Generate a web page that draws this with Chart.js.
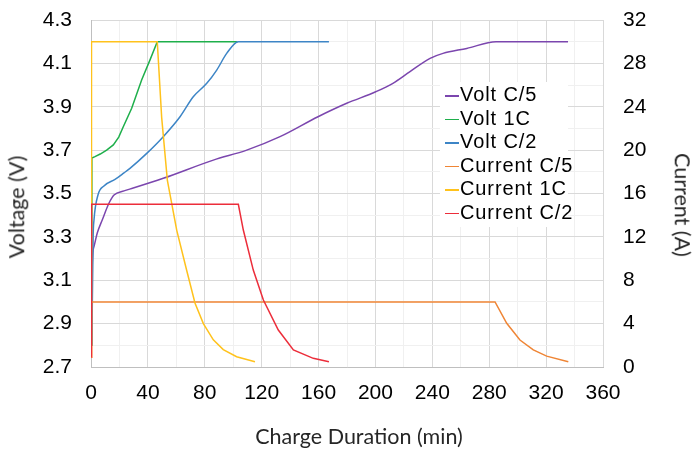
<!DOCTYPE html>
<html>
<head>
<meta charset="utf-8">
<script src="https://cdn.jsdelivr.net/npm/chart.js@4.4.1/dist/chart.umd.min.js"></script>
<style>
  html, body { margin: 0; padding: 0; background: #fff; }
  #wrap { position: relative; width: 693px; height: 449px; }
  #legend { position: absolute; left: 440px; top: 82px; width: 128px; height: 144px; background: #fff;
            font-family: "Liberation Sans", Arial, sans-serif; font-size: 20px; letter-spacing: 0.9px; color: #000; padding-top: 1px; }
  .li { position: relative; height: 23.6px; line-height: 23.6px; white-space: nowrap; padding-left: 20px; }
  .li span.mk { position: absolute; left: 5px; top: 12px; width: 14px; height: 1.5px; }
  .atitle { position: absolute; font-family: Lato, "Open Sans", sans-serif; font-size: 21.5px; color: #262626;
            white-space: nowrap; transform: translate(-50%, -50%); line-height: 1; }
  #yl { transform: translate(-50%, -50%) rotate(-90deg); }
  #yr { transform: translate(-50%, -50%) rotate(90deg); }
</style>
</head>
<body>
<div id="wrap">
  <canvas id="c" width="693" height="449"></canvas>
  <div id="legend"></div>
  <div class="atitle" id="yl" style="left:17px; top:207px;">Voltage (V)</div>
  <div class="atitle" id="yr" style="left:682px; top:205px;">Current (A)</div>
  <div class="atitle" id="xt" style="left:359px; top:437px;">Charge Duration (min)</div>
</div>
<script>
// ---- Data ----
const seriesNames = ['Volt C/5', 'Volt 1C', 'Volt C/2', 'Current C/5', 'Current 1C', 'Current C/2'];
const seriesColors = ['#7B46AE', '#1EAF4B', '#3D85C6', '#EF8535', '#FFC21C', '#EC2D3A'];

const voltC5Time = [0.3, 0.9, 2.1, 4.4, 7.9, 12.7, 16.2, 23.2, 29.7, 50.8, 86, 109.5, 132.9, 159.6, 179.8, 200.2, 212.3, 224.3, 238.4, 247.5, 264.2, 284.8, 335.4];
const voltC5     = [2.80, 3.18, 3.255, 3.318, 3.378, 3.456, 3.493, 3.512, 3.525, 3.57, 3.654, 3.70, 3.762, 3.854, 3.916, 3.969, 4.008, 4.062, 4.123, 4.146, 4.169, 4.20, 4.20];

const volt1CTime = [0.3, 0.6, 2.8, 6.5, 11, 15.7, 19.5, 22.7, 28.6, 35.6, 41.5, 46.6, 103];
const volt1C     = [2.80, 3.664, 3.670, 3.682, 3.70, 3.724, 3.76, 3.808, 3.893, 4.023, 4.116, 4.20, 4.20];

const voltC2Time = [0.6, 1.5, 2.1, 4.9, 9.1, 16.9, 23.2, 27.4, 39.2, 50.8, 62.6, 71.9, 81.4, 88.4, 95.4, 103.6, 167.3];
const voltC2     = [2.80, 3.30, 3.378, 3.493, 3.535, 3.565, 3.595, 3.616, 3.685, 3.762, 3.854, 3.946, 4.008, 4.069, 4.146, 4.20, 4.20];

const currC5Time = [0.3, 0.35, 284.1, 292.3, 301.6, 311, 320.4, 335.6];
const currC5     = [0.9, 6, 6, 4.03, 2.49, 1.57, 1.0, 0.49];

const curr1CTime = [0.3, 0.35, 46.6, 49.7, 53.7, 60.3, 67.3, 73.1, 79, 86, 93, 102.4, 115.3];
const curr1C     = [0.9, 30, 30, 23, 17.2, 12.6, 8.9, 5.9, 4.0, 2.5, 1.6, 0.95, 0.49];

const currC2Time = [0.3, 0.35, 103.6, 107.1, 114.1, 121.2, 131.7, 142.3, 156.3, 167.3];
const currC2     = [0.9, 15, 15, 12.63, 8.94, 6.18, 3.41, 1.57, 0.80, 0.49];

const times  = [voltC5Time, volt1CTime, voltC2Time, currC5Time, curr1CTime, currC2Time];
const values = [voltC5, volt1C, voltC2, currC5, curr1C, currC2];
const axisIds = ['y', 'y', 'y', 'y1', 'y1', 'y1'];
const smooth  = [true, false, true, false, false, false];

// ---- Build chart ----
const datasets = seriesNames.map((name, i) => ({
  label: name,
  data: times[i].map((t, k) => ({ x: t, y: values[i][k] })),
  yAxisID: axisIds[i],
  borderColor: seriesColors[i],
  backgroundColor: seriesColors[i],
  borderWidth: 1.5,
  pointRadius: 0,
  tension: smooth[i] ? 0.4 : 0,
  cubicInterpolationMode: smooth[i] ? 'monotone' : 'default',
  fill: false,
  showLine: true,
  order: seriesNames.length - 1 - i
}));

const tickFont = { family: '"Liberation Sans", Arial, sans-serif', size: 21 };
const majorGrid = '#D9D9D9', minorGrid = '#F0F0F0';
const fixV = (w) => (s) => { s.width = w; s.paddingTop = 0; s.paddingBottom = 0; };

new Chart(document.getElementById('c'), {
  type: 'scatter',
  data: { datasets },
  options: {
    responsive: false,
    animation: false,
    devicePixelRatio: 1,
    layout: { padding: { top: 20, left: 0, right: 0, bottom: 0 } },
    plugins: { legend: { display: false }, tooltip: { enabled: false } },
    scales: {
      x: {
        type: 'linear', min: 0, max: 360,
        ticks: { stepSize: 20, autoSkip: false, maxRotation: 0, color: '#000', font: tickFont, padding: 14,
                 callback: (v) => (v % 40 === 0 ? String(v) : '') },
        grid: { drawTicks: false, color: (ctx) => (ctx.tick && ctx.tick.value % 40 === 0 ? majorGrid : minorGrid) },
        border: { display: true, color: '#BFBFBF' },
        title: { display: false },
        afterFit: (s) => { s.height = 82; s.paddingLeft = 0; s.paddingRight = 0; }
      },
      y: {
        type: 'linear', position: 'left', min: 2.7, max: 4.3,
        ticks: { stepSize: 0.1, autoSkip: false, color: '#000', font: tickFont, padding: 19,
                 callback: (v, i) => (i % 2 === 0 ? v.toFixed(1) : '') },
        grid: { drawTicks: false, color: (ctx) => (ctx.index % 2 === 0 ? majorGrid : minorGrid) },
        border: { display: true, color: '#BFBFBF' },
        title: { display: false },
        afterFit: fixV(91)
      },
      y1: {
        type: 'linear', position: 'right', min: 0, max: 32,
        ticks: { stepSize: 4, autoSkip: false, color: '#000', font: tickFont, padding: 20 },
        grid: { display: false, drawTicks: false },
        border: { display: false },
        title: { display: false },
        afterFit: fixV(90)
      }
    }
  }
});

// ---- Legend (HTML overlay) ----
const lg = document.getElementById('legend');
seriesNames.forEach((n, i) => {
  const d = document.createElement('div');
  d.className = 'li';
  const mk = document.createElement('span');
  mk.className = 'mk';
  mk.style.background = seriesColors[i];
  d.appendChild(mk);
  d.appendChild(document.createTextNode(n));
  lg.appendChild(d);
});
</script>
</body>
</html>
